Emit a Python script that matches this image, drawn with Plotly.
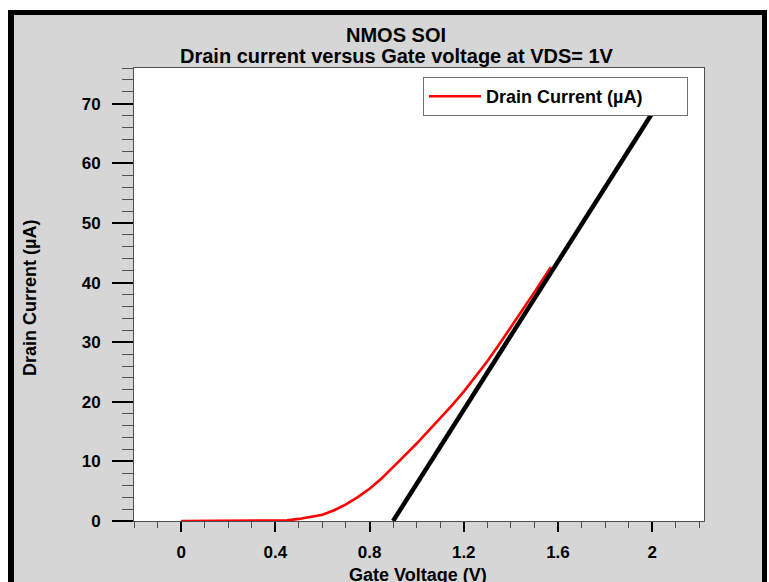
import plotly.graph_objects as go

# ---- data ----
vg = [0, 0.1, 0.2, 0.3, 0.4, 0.45, 0.5, 0.55, 0.6, 0.65, 0.7, 0.75, 0.8, 0.85,
      0.9, 0.95, 1.0, 1.05, 1.1, 1.15, 1.2, 1.25, 1.3, 1.35, 1.4, 1.45, 1.5, 1.57]
id_ua = [0, 0, 0, 0, 0.02, 0.1, 0.35, 0.65, 1.05, 1.8, 2.8, 4.0, 5.4, 7.1,
         9.0, 11.0, 13.0, 15.1, 17.2, 19.4, 21.7, 24.2, 26.8, 29.6, 32.5, 35.4, 38.4, 42.6]
fit_v = [0.9, 2.0]
fit_i = [0, 68.4]
x_tickvals = [0, 0.4, 0.8, 1.2, 1.6, 2]
x_ticktext = ["0", "0.4", "0.8", "1.2", "1.6", "2"]

W, H = 769, 582
L, R, T, B = 134, 704, 68, 521
PW, PH = R - L, B - T

def xp(px):
    return (px - L) / PW

def yp(py):
    return (B - py) / PH

FONT = "Liberation Sans, Arial, sans-serif"
GREY = "#d6d6d6"

fig = go.Figure()
fig.add_trace(go.Scatter(x=vg, y=id_ua, mode="lines", name="Drain Current (µA)",
                         line=dict(color="#ff0000", width=2.6), cliponaxis=False))
fig.add_trace(go.Scatter(x=fit_v, y=fit_i, mode="lines", showlegend=False,
                         line=dict(color="#000000", width=4.5)))

axis_common = dict(showline=True, linecolor="#505050", linewidth=1, mirror=True,
                   showgrid=False, zeroline=False, ticks="outside", tickcolor="#000000",
                   tickwidth=2, tickfont=dict(family=FONT, size=17, color="#000000", weight="bold"))

fig.update_xaxes(range=[-0.2, 2.22], tickvals=x_tickvals, ticktext=x_ticktext,
                 ticklen=10, ticklabelstandoff=6,
                 minor=dict(dtick=0.1, tick0=0, ticks="outside", ticklen=6,
                            tickcolor="#505050", tickwidth=1),
                 **axis_common)
fig.update_yaxes(range=[0, 76], dtick=10, tick0=0, ticklen=21, ticklabelstandoff=8,
                 minor=dict(dtick=2, tick0=0, ticks="outside", ticklen=11,
                            tickcolor="#505050", tickwidth=1),
                 **axis_common)

shapes = []
# white strips outside the window frame
shapes.append(dict(type="rect", xref="paper", yref="paper", x0=xp(0), x1=xp(W), y0=yp(10), y1=yp(0),
                   fillcolor="#ffffff", line=dict(width=0), layer="above"))
shapes.append(dict(type="rect", xref="paper", yref="paper", x0=xp(0), x1=xp(8), y0=yp(H), y1=yp(0),
                   fillcolor="#ffffff", line=dict(width=0), layer="above"))
shapes.append(dict(type="rect", xref="paper", yref="paper", x0=xp(767), x1=xp(W), y0=yp(H), y1=yp(0),
                   fillcolor="#ffffff", line=dict(width=0), layer="above"))
# black frame
shapes.append(dict(type="rect", xref="paper", yref="paper", x0=xp(8), x1=xp(767), y0=yp(15), y1=yp(10),
                   fillcolor="#000000", line=dict(width=0), layer="above"))
shapes.append(dict(type="rect", xref="paper", yref="paper", x0=xp(8), x1=xp(14), y0=yp(H), y1=yp(10),
                   fillcolor="#000000", line=dict(width=0), layer="above"))
shapes.append(dict(type="rect", xref="paper", yref="paper", x0=xp(762), x1=xp(767), y0=yp(H), y1=yp(10),
                   fillcolor="#000000", line=dict(width=0), layer="above"))

annotations = [
    dict(text="NMOS SOI", x=xp(396), y=yp(35), xref="paper", yref="paper", showarrow=False,
         xanchor="center", yanchor="middle", font=dict(family=FONT, size=20, color="#000", weight="bold")),
    dict(text="Drain current versus Gate voltage at VDS= 1V", x=xp(397), y=yp(56), xref="paper", yref="paper",
         showarrow=False, xanchor="center", yanchor="middle",
         font=dict(family=FONT, size=20, color="#000", weight="bold")),
    dict(text="Gate Voltage (V)", x=xp(418), y=yp(575), xref="paper", yref="paper", showarrow=False,
         xanchor="center", yanchor="middle", font=dict(family=FONT, size=18, color="#000", weight="bold")),
    dict(text="Drain Current (µA)", x=xp(30), y=yp(298), xref="paper", yref="paper", showarrow=False,
         textangle=-90, xanchor="center", yanchor="middle",
         font=dict(family=FONT, size=18, color="#000", weight="bold")),
]

fig.update_layout(
    width=W, height=H,
    margin=dict(l=L, r=W - R, t=T, b=H - B, autoexpand=False),
    paper_bgcolor=GREY, plot_bgcolor="#ffffff",
    showlegend=True,
    legend=dict(x=xp(423), y=yp(77), xanchor="left", yanchor="top", xref="paper", yref="paper",
                bgcolor="#ffffff", bordercolor="#707070", borderwidth=1,
                orientation="h", entrywidth=196, itemwidth=52,
                font=dict(family=FONT, size=18, color="#000", weight="bold")),
    shapes=shapes, annotations=annotations,
)

fig.write_html("out.html")
